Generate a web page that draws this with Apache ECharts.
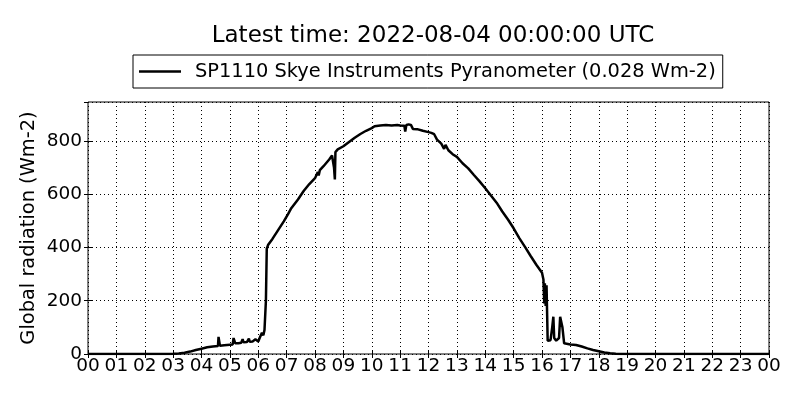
<!DOCTYPE html>
<html>
<head>
<meta charset="utf-8">
<script src="https://cdn.jsdelivr.net/npm/echarts@6/dist/echarts.min.js"></script>
<style>
html,body{margin:0;padding:0;background:#fff;}
#chart{width:800px;height:400px;}
</style>
</head>
<body>
<div id="chart"></div>
<script>
var titleText = 'Latest time: 2022-08-04 00:00:00 UTC';
var seriesName = 'SP1110 Skye Instruments Pyranometer (0.028 Wm-2)';
var yAxisName = 'Global radiation (Wm-2)';

// time in hours (UTC) since 00:00
var hours = [
  0, 1, 2, 2.9, 3.0, 3.2, 3.4, 3.6, 3.8, 4.0, 4.2, 4.4, 4.58, 4.6, 4.63, 4.65, 4.8, 5.0, 5.1, 5.13, 5.16, 5.19,
  5.3, 5.4, 5.45, 5.48, 5.6, 5.67, 5.7, 5.8, 5.9, 5.95, 6.0, 6.05, 6.1, 6.13, 6.18, 6.22, 6.27, 6.3, 6.35,
  6.5, 6.7, 6.9, 7.05, 7.1, 7.15, 7.2, 7.4, 7.6, 7.8, 8.0, 8.05, 8.1, 8.13, 8.17, 8.3, 8.5, 8.6, 8.65, 8.67,
  8.7, 8.72, 8.8, 9.0, 9.2, 9.4, 9.6, 9.8, 10.0, 10.1, 10.3, 10.5, 10.7, 10.9, 11.0, 11.15, 11.18, 11.22,
  11.3, 11.38, 11.45, 11.6, 11.8, 12.0, 12.1, 12.2, 12.3, 12.45, 12.5, 12.55, 12.6, 12.7, 12.85, 13.0,
  13.2, 13.4, 13.6, 13.8, 14.0, 14.2, 14.4, 14.6, 14.8, 15.0, 15.2, 15.4, 15.6, 15.8, 16.0, 16.05, 16.08,
  16.1, 16.13, 16.16, 16.2, 16.3, 16.36, 16.4, 16.43, 16.5, 16.6, 16.64, 16.7, 16.72, 16.78, 17.0, 17.2,
  17.25, 17.4, 17.6, 17.8, 18.0, 18.2, 18.4, 18.6, 18.8, 24
];
// global radiation (Wm-2)
var radiation = [
  0, 0, 0, 0, 0.5, 2, 5, 9, 15, 20, 25, 28, 30, 64, 64, 31, 33, 35, 36, 60, 66, 40,
  40, 42, 56, 44, 45, 58, 46, 47, 55, 50, 47, 60, 55, 80, 70, 90, 200, 395, 410,
  432, 465, 498, 525, 528, 545, 545, 580, 612, 638, 660, 665, 683, 670, 690, 705, 730, 745, 750, 700,
  655, 758, 768, 780, 796, 812, 826, 838, 848, 855, 858, 860, 858, 860, 858, 857, 835, 860,
  862, 860, 845, 844, 838, 833, 830, 825, 805, 790, 792, 770, 785, 765, 750, 740,
  716, 697, 672, 648, 622, 595, 568, 535, 505, 472, 435, 402, 368, 335, 305, 280, 190,
  265, 180, 258, 50, 52, 100, 140, 60, 50, 60, 140, 110, 100, 40, 36, 34,
  36, 28, 21, 15, 10, 6, 3, 1, 0, 0
];
var yTicks = [0, 200, 400, 600, 800];

var data = hours.map(function (h, i) { return [h, radiation[i]]; });
var FONT = 'DejaVu Sans';

function hourLabel(v) {
  var h = Math.round(v) % 24;
  return (h < 10 ? '0' : '') + h;
}
function yLabel(v) {
  return yTicks.indexOf(v) >= 0 ? String(v) : '';
}

var chart = echarts.init(document.getElementById('chart'), null, {renderer: 'canvas'});
chart.setOption({
  animation: false,
  backgroundColor: '#fff',
  title: {
    text: titleText,
    left: 428,
    top: 20,
    textAlign: 'center',
    textStyle: {fontFamily: FONT, fontSize: 23, fontWeight: 'normal', color: '#000'}
  },
  legend: {
    left: 133,
    top: 55,
    padding: [7, 7, 7, 6],
    borderColor: '#000',
    borderWidth: 1,
    borderRadius: 0,
    icon: 'rect',
    itemWidth: 42,
    itemHeight: 2.5,
    itemStyle: {color: '#000'},
    textStyle: {fontFamily: FONT, fontSize: 19.4, color: '#000', padding: [0, 0, 0, 9]},
    data: [seriesName]
  },
  grid: {
    left: 88, right: 31, top: 102, bottom: 46,
    show: true, borderColor: '#000', borderWidth: 1, backgroundColor: 'transparent'
  },
  xAxis: [{
    type: 'value', min: 0, max: 24, interval: 1,
    axisLine: {show: false},
    axisTick: {show: true, inside: true, length: 4, lineStyle: {color: '#000'}},
    axisLabel: {formatter: hourLabel, fontFamily: FONT, fontSize: 18.5, color: '#000', margin: 3},
    splitLine: {show: true, lineStyle: {color: '#000', type: [1, 3], width: 1}}
  }, {
    type: 'value', min: 0, max: 24, interval: 1, position: 'top',
    axisLine: {show: false},
    axisTick: {show: true, inside: true, length: 4, lineStyle: {color: '#000'}},
    axisLabel: {show: false},
    splitLine: {show: false}
  }],
  yAxis: [{
    type: 'value', min: 0, max: 946, interval: 200,
    name: yAxisName,
    nameLocation: 'middle',
    nameRotate: 90,
    nameGap: 50,
    nameMoveOverlap: false,
    nameTextStyle: {fontFamily: FONT, fontSize: 19.4, color: '#000'},
    axisLine: {show: false},
    axisTick: {show: true, inside: true, length: 4, lineStyle: {color: '#000'}},
    axisLabel: {formatter: yLabel, showMaxLabel: false, fontFamily: FONT, fontSize: 18.5, color: '#000', margin: 6},
    splitLine: {show: true, lineStyle: {color: '#000', type: [1, 3], width: 1}}
  }, {
    type: 'value', min: 0, max: 946, interval: 200, position: 'right',
    axisLine: {show: false},
    axisTick: {show: true, inside: true, length: 4, lineStyle: {color: '#000'}},
    axisLabel: {show: false},
    splitLine: {show: false}
  }],
  series: [{
    name: seriesName,
    type: 'line',
    xAxisIndex: 0,
    yAxisIndex: 0,
    data: data,
    showSymbol: false,
    symbol: 'none',
    lineStyle: {color: '#000', width: 2.5},
    itemStyle: {color: '#000'}
  }]
});
</script>
</body>
</html>
